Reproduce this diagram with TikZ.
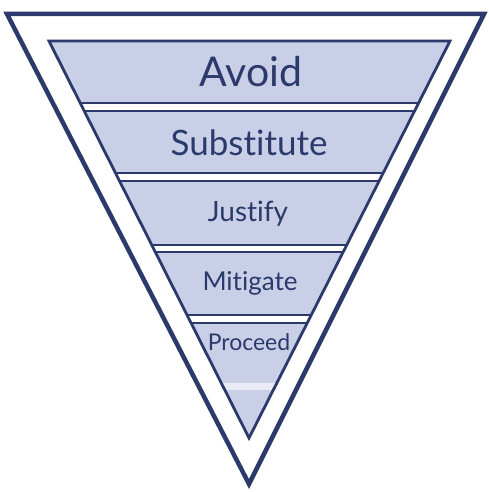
\documentclass[tikz,border=0pt]{standalone}
\usepackage{fontspec}
\setmainfont{Lato}[Ligatures={NoCommon}]
\definecolor{navy}{HTML}{2B3A6B}
\definecolor{bandfill}{HTML}{C8CFE6}
\begin{document}
\begin{tikzpicture}[x=1pt, y=-1pt,
        frame/.style={draw=navy, line width=4.5pt, line join=miter},
        funnel/.style={draw=navy, line width=2.8pt, line join=miter},
        gapline/.style={draw=navy, line width=1.2pt},
        lab/.style={text=navy, inner sep=0pt, anchor=center}
      ]
      \useasboundingbox (0,0) rectangle (488,492);
      \coordinate (otl) at (7,14);
      \coordinate (otr) at (484,14);
      \coordinate (obt) at (249,484);
      \coordinate (itl) at (49,41);
      \coordinate (itr) at (450,41);
      \coordinate (ibt) at (249,438);
      \draw[frame] (otl) -- (otr) -- (obt) -- cycle;
      \fill[bandfill] (itl) -- (itr) -- (ibt) -- cycle;
      \begin{scope}
        \clip (itl) -- (itr) -- (ibt) -- cycle;
        \foreach \a/\b in {103/111,173/181,245/252,315/323}
        {\fill[white] (0,\a) rectangle (488,\b);
         \draw[gapline] (0,\a) -- (488,\a) (0,\b) -- (488,\b);}
        \fill[white, opacity=0.6] (0,383) rectangle (488,390);
      \end{scope}
      \draw[funnel] (itl) -- (itr) -- (ibt) -- cycle;
      \node[lab, font=\fontsize{41}{41}\selectfont] (avoid) at (251,72) {Avoid};
      \node[lab, font=\fontsize{35}{35}\selectfont] (subst) at (249,143) {Substitute};
      \node[lab, font=\fontsize{28}{28}\selectfont] (justify) at (248,214) {Justify};
      \node[lab, font=\fontsize{26}{26}\selectfont] (mitig) at (250,283) {Mitigate};
      \node[lab, font=\fontsize{23}{23}\selectfont] (proceed) at (249,342) {Proceed};
    \end{tikzpicture}
\end{document}
